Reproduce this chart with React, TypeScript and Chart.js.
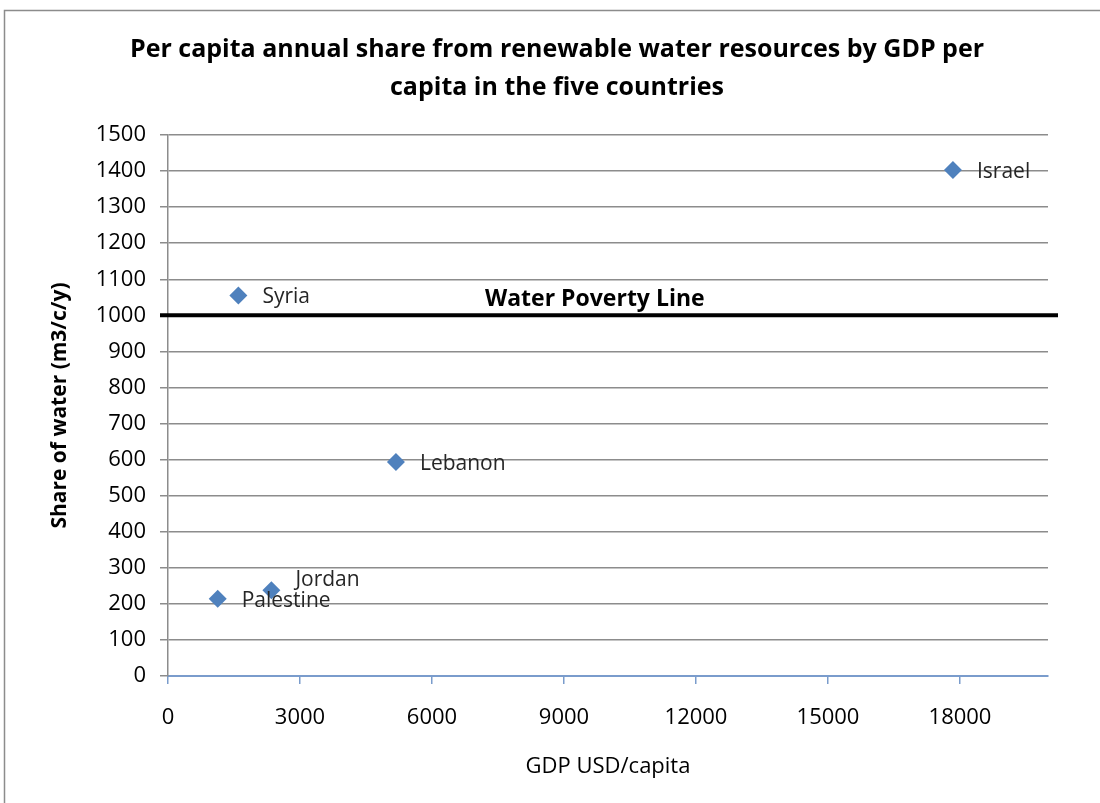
import React, { useEffect, useRef } from "react";
import { Chart, registerables } from "chart.js";

Chart.register(...registerables);

const countries = ["Palestine", "Syria", "Jordan", "Lebanon", "Israel"];
const gdpPerCapita = [1130, 1600, 2350, 5180, 17840];
const waterShare = [214, 1055, 238, 593, 1403];
const labelRaise = [0, 0, 12, 0, 0];
const xTickValues = [0, 3000, 6000, 9000, 12000, 15000, 18000];
const povertyLineValue = 1000;
const povertyLineText = "Water Poverty Line";
const povertyTextX = 9700;
const titleLines = [
  "Per capita annual share from renewable water resources by GDP per",
  "capita in the five countries",
];
const xTitle = "GDP USD/capita";
const yTitle = "Share of water (m3/c/y)";

const FONT = "'Open Sans', sans-serif";

const decorPlugin = {
  id: "decor",
  beforeDraw(chart: any) {
    const ctx = chart.ctx;
    ctx.save();
    ctx.fillStyle = "#ffffff";
    ctx.fillRect(0, 0, chart.width, chart.height);
    ctx.strokeStyle = "#8c8c8c";
    ctx.lineWidth = 1.5;
    ctx.strokeRect(4.5, 10.5, chart.width + 50, chart.height + 50);
    ctx.fillStyle = "#000000";
    ctx.font = `bold 25px ${FONT}`;
    ctx.textAlign = "center";
    ctx.textBaseline = "middle";
    ctx.fillText(titleLines[0], 557, 50);
    ctx.fillText(titleLines[1], 557, 88);
    ctx.restore();
  },
  afterDraw(chart: any) {
    const ctx = chart.ctx;
    const xs = chart.scales.x;
    const ys = chart.scales.y;
    const area = chart.chartArea;
    ctx.save();
    const py = ys.getPixelForValue(povertyLineValue);
    ctx.strokeStyle = "#000000";
    ctx.lineWidth = 4;
    ctx.beginPath();
    ctx.moveTo(area.left - 8, py);
    ctx.lineTo(area.right + 10, py);
    ctx.stroke();
    ctx.fillStyle = "#000000";
    ctx.font = `bold 23px ${FONT}`;
    ctx.textAlign = "center";
    ctx.textBaseline = "middle";
    ctx.fillText(povertyLineText, xs.getPixelForValue(povertyTextX), py - 16);
    ctx.font = `21px ${FONT}`;
    ctx.textAlign = "left";
    ctx.fillStyle = "#262626";
    countries.forEach((c, i) => {
      const px = xs.getPixelForValue(gdpPerCapita[i]);
      const yy = ys.getPixelForValue(waterShare[i]);
      ctx.fillText(c, px + 24, yy + 2 - labelRaise[i]);
    });
    ctx.restore();
  },
};

export default function App() {
  const ref = useRef<HTMLCanvasElement>(null);
  useEffect(() => {
    if (!ref.current) return;
    const chart = new Chart(ref.current, {
      type: "scatter",
      data: {
        datasets: [
          {
            label: "Countries",
            data: countries.map((_, i) => ({ x: gdpPerCapita[i], y: waterShare[i] })),
            pointStyle: "rectRot",
            pointRadius: 9,
            pointHoverRadius: 9,
            backgroundColor: "#4f81bd",
            borderColor: "#4f81bd",
            borderWidth: 0,
          },
        ],
      },
      plugins: [decorPlugin],
      options: {
        animation: false,
        responsive: false,
        layout: { padding: { left: 0, right: 52, top: 135, bottom: 0 } },
        plugins: {
          legend: { display: false },
          tooltip: { enabled: false },
          title: { display: false },
        },
        scales: {
          x: {
            type: "linear",
            min: 0,
            max: 20000,
            afterFit: (s: any) => {
              s.height = 127;
            },
            afterBuildTicks: (s: any) => {
              s.ticks = xTickValues.map((v) => ({ value: v }));
            },
            ticks: {
              color: "#000000",
              font: { family: FONT, size: 22 },
              padding: 21,
              maxRotation: 0,
              autoSkip: false,
              callback: (v: any) => String(v),
            },
            grid: {
              drawOnChartArea: false,
              drawTicks: true,
              tickLength: 8,
              color: "#7a9ccc",
              lineWidth: 1.5,
            },
            border: { display: true, color: "#7a9ccc", width: 2 },
            title: {
              display: true,
              text: xTitle,
              color: "#000000",
              font: { family: FONT, size: 22 },
              padding: { top: 0, bottom: 23 },
            },
          },
          y: {
            type: "linear",
            min: 0,
            max: 1500,
            afterFit: (s: any) => {
              s.width = 168;
            },
            ticks: {
              stepSize: 100,
              color: "#000000",
              font: { family: FONT, size: 22 },
              padding: 14,
              callback: (v: any) => String(v),
            },
            grid: {
              color: (c: any) => (c.tick && c.tick.value === 0 ? "rgba(0,0,0,0)" : "#8c8c8c"),
              tickColor: "#8c8c8c",
              lineWidth: 1.5,
              tickLength: 8,
            },
            border: { display: true, color: "#8c8c8c", width: 1.5 },
            title: {
              display: true,
              text: yTitle,
              color: "#000000",
              font: { family: FONT, size: 21, weight: "bold" },
              padding: { top: 47, bottom: 0 },
            },
          },
        },
      },
    });
    return () => chart.destroy();
  }, []);
  return (
    <div style={{ position: "absolute", left: 0, top: 0, width: 1100, height: 803, overflow: "hidden" }}>
      <canvas ref={ref} width={1100} height={803} style={{ display: "block" }} />
    </div>
  );
}
